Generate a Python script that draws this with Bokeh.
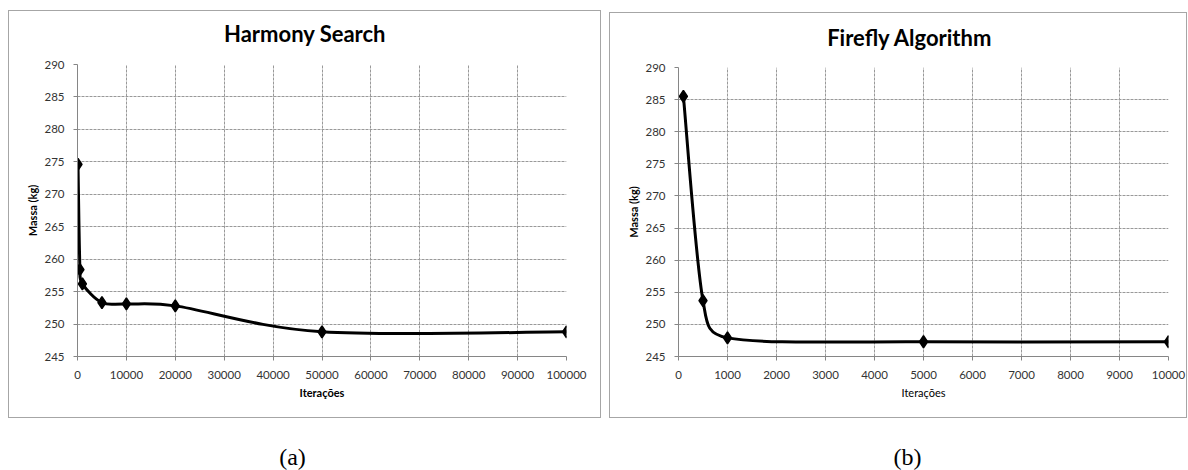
import math
from bokeh.plotting import figure
from bokeh.layouts import row, column
from bokeh.models import Range1d, FixedTicker, NumeralTickFormatter, ColumnDataSource
from bokeh.core.properties import value
from bokeh.embed import file_html
from bokeh.resources import INLINE

# ---------------- data ----------------
hs_iter = [100, 500, 1000, 5000, 10000, 20000, 50000, 100000]
hs_mass = [274.6, 258.4, 256.2, 253.3, 253.1, 252.8, 248.8, 248.8]
fa_iter = [100, 500, 1000, 5000, 10000]
fa_mass = [285.5, 253.7, 247.9, 247.3, 247.3]
hs_xticks = [0, 10000, 20000, 30000, 40000, 50000, 60000, 70000, 80000, 90000, 100000]
fa_xticks = [0, 1000, 2000, 3000, 4000, 5000, 6000, 7000, 8000, 9000, 10000]
y_ticks = [245, 250, 255, 260, 265, 270, 275, 280, 285, 290]
titles = ["Harmony Search", "Firefly Algorithm"]
captions = ["(a)", "(b)"]
x_label = "Iterações"
y_label = "Massa (kg)"

FONT = "Lato"
BOX = "1px solid #a6a6a6"


def smooth_segments(xs, ys, sx, sy):
    """Excel-like smoothed line: cubic Bezier control points (computed in pixel space)."""
    P = [(x * sx, y * sy) for x, y in zip(xs, ys)]
    n = len(P)
    d = dict(x0=[], y0=[], x1=[], y1=[], cx0=[], cy0=[], cx1=[], cy1=[])
    dist = lambda a, b: math.hypot(a[0] - b[0], a[1] - b[1])
    for i in range(n - 1):
        p0 = P[i - 1] if i > 0 else P[i]
        p1, p2 = P[i], P[i + 1]
        p3 = P[i + 2] if i + 2 < n else P[i + 1]
        d12 = dist(p1, p2)
        d02 = dist(p0, p2)
        d13 = dist(p1, p3)
        f1 = 1 / 6 if d02 / 6 < d12 / 2 else (d12 / 2) / d02
        f2 = 1 / 6 if d13 / 6 < d12 / 2 else (d12 / 2) / d13
        c1 = (p1[0] + f1 * (p2[0] - p0[0]), p1[1] + f1 * (p2[1] - p0[1]))
        c2 = (p2[0] - f2 * (p3[0] - p1[0]), p2[1] - f2 * (p3[1] - p1[1]))
        d["x0"].append(p1[0] / sx); d["y0"].append(p1[1] / sy)
        d["x1"].append(p2[0] / sx); d["y1"].append(p2[1] / sy)
        d["cx0"].append(c1[0] / sx); d["cy0"].append(c1[1] / sy)
        d["cx1"].append(c2[0] / sx); d["cy1"].append(c2[1] / sy)
    return d


def text_strip(W, H, xs, ys, texts, font, size, style):
    """A bare figure (no axes) whose frame is its whole canvas, holding only text."""
    f = figure(width=W, height=H, output_backend="svg", toolbar_location=None,
               x_axis_location=None, y_axis_location=None,
               x_range=Range1d(0, W), y_range=Range1d(H, 0),
               min_border=0, min_border_left=0, min_border_right=0,
               min_border_top=0, min_border_bottom=0)
    f.grid.visible = False
    f.outline_line_color = None
    f.title.visible = False
    f.background_fill_color = "white"
    f.border_fill_color = "white"
    f.text(x=xs, y=ys, text=texts, text_align="center", text_baseline="middle",
           text_font=value(font), text_font_size=size, text_font_style=style,
           text_color="#000000")
    return f


def make_chart(xs, ys, xticks, W, H, mb, xlabel_bold):
    left, right, top, bottom = mb
    p = figure(width=W, height=H, output_backend="svg", toolbar_location=None,
               x_range=Range1d(xticks[0], xticks[-1]),
               y_range=Range1d(y_ticks[0], y_ticks[-1]),
               min_border_left=left, min_border_right=right,
               min_border_top=top, min_border_bottom=bottom)
    p.title.visible = False
    p.outline_line_color = None
    p.background_fill_color = "white"
    p.border_fill_color = "white"

    for ax in (p.xaxis[0], p.yaxis[0]):
        ax.axis_line_color = "#868686"
        ax.major_tick_line_color = "#868686"
        ax.major_tick_out = 4
        ax.major_tick_in = 0
        ax.minor_tick_line_color = None
        ax.major_label_text_font = FONT
        ax.major_label_text_font_size = "11.5px"
        ax.major_label_text_color = "#333333"
        ax.axis_label_text_font = FONT
        ax.axis_label_text_font_size = "11px"
        ax.axis_label_text_color = "#000000"
    p.xaxis.ticker = FixedTicker(ticks=xticks)
    p.yaxis.ticker = FixedTicker(ticks=y_ticks)
    p.xaxis.formatter = NumeralTickFormatter(format="0")
    p.yaxis.formatter = NumeralTickFormatter(format="0")
    p.xaxis.axis_label = x_label
    p.yaxis.axis_label = y_label
    p.yaxis.axis_label_text_font_style = "bold"
    p.xaxis.axis_label_text_font_style = "bold" if xlabel_bold else "normal"
    p.xaxis.major_label_standoff = 10
    p.yaxis.major_label_standoff = 9
    p.xaxis.axis_label_standoff = 4
    p.yaxis.axis_label_standoff = 2

    for g in (p.xgrid[0], p.ygrid[0]):
        g.grid_line_color = "#999999"
        g.grid_line_dash = "3 1"
        g.grid_line_width = 1

    fw = W - left - right
    fh = H - top - bottom
    sx = fw / (xticks[-1] - xticks[0])
    sy = fh / (y_ticks[-1] - y_ticks[0])
    seg = ColumnDataSource(smooth_segments(xs, ys, sx, sy))
    p.bezier(x0="x0", y0="y0", x1="x1", y1="y1", cx0="cx0", cy0="cy0",
             cx1="cx1", cy1="cy1", source=seg, line_color="black", line_width=3)
    p.scatter(xs, ys, marker="diamond", size=12, fill_color="black",
              line_color="black", line_width=1.5)
    return p


# ---- panel (a) ----
WA = 591
tA = text_strip(WA, 40, [275], [22], [titles[0]], FONT, "22px", "bold")
pA = make_chart(hs_iter, hs_mass, hs_xticks, WA, 366, (68, 34, 13, 61), True)
boxA = column(tA, pA, margin=(10, 0, 0, 8), styles={"border": BOX})

# ---- panel (b) ----
WB = 576
tB = text_strip(WB, 40, [272], [24], [titles[1]], FONT, "22px", "bold")
pB = make_chart(fa_iter, fa_mass, fa_xticks, WB, 364, (68, 18, 14, 61), False)
boxB = column(tB, pB, margin=(12, 0, 0, 8), styles={"border": BOX})

# ---- captions ----
cap = text_strip(1188, 52, [292, 907], [38, 38], captions, "Liberation Serif", "24px", "normal")

layout = column(row(boxA, boxB), cap)
open("out.html", "w").write(file_html(layout, INLINE))
